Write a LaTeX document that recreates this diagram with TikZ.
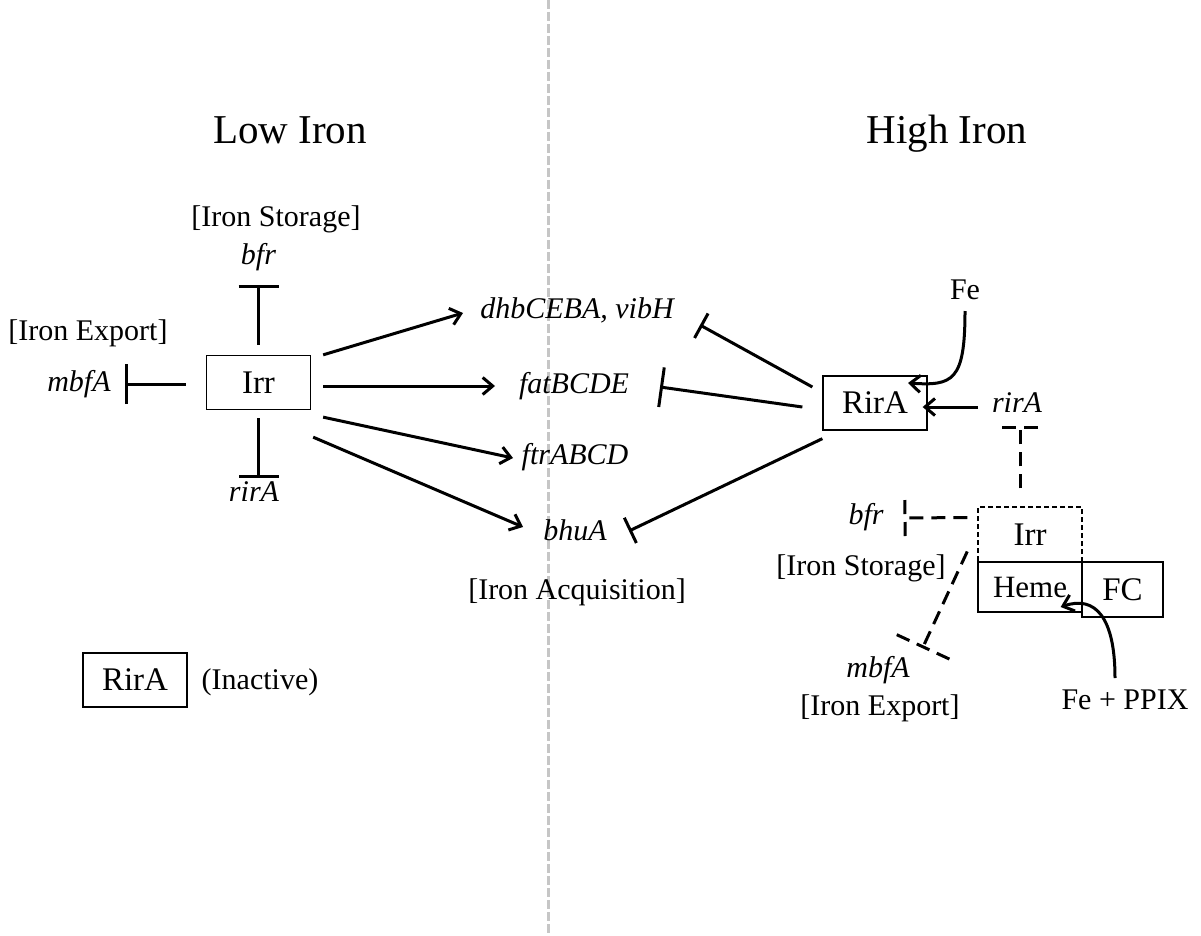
\documentclass[tikz,border=0pt]{standalone}
\usepackage{fontspec}
\setmainfont{Liberation Serif}
\usetikzlibrary{arrows.meta,decorations.markings}

\begin{document}
\begin{tikzpicture}[x=1pt, y=-1pt,
    lbl/.style={inner sep=0pt, font=\fontsize{30}{34}\selectfont},
    gene/.style={inner sep=0pt, font=\fontsize{30}{34}\selectfont\itshape},
    heading/.style={inner sep=0pt, font=\fontsize{41}{46}\selectfont},
    prot/.style={draw, line width=1.3pt, inner sep=0pt, minimum width=104pt,
                 minimum height=54pt, font=\fontsize{33}{38}\selectfont},
    act/.style={line width=3pt, -{Straight Barb[length=10pt, width=17pt]}},
    inh/.style={line width=3pt, -{Bar[width=#1]}},
    inh/.default=40pt,
    dinh/.style={line width=3pt, dash pattern=on 14pt off 8pt,
                 postaction={decorate}, decoration={markings, mark=at position 1 with
                 {\draw[line width=3pt, dash pattern=on 14pt off 8pt] (0,-#1) -- (0,#1);}}},
    dinh/.default=18pt,
  ]
    \fill[white] (0,0) rectangle (1201,936);
    \useasboundingbox (0,0) rectangle (1201,936);

    % divider between the two conditions
    \coordinate (divtop) at (548,0);
    \coordinate (divbot) at (548,936);
    \draw[gray!45, line width=3pt, dash pattern=on 9pt off 3pt] (divtop) -- (divbot);

    \node[heading] (lowt) at (290,130) {Low Iron};
    \node[heading] (hight) at (947,134) {High Iron};

    % low iron
    \node[prot] (irrl) at (258.5,382.5) {Irr};
    \node[lbl] (storel) at (276,219) {[Iron Storage]};
    \node[gene] (bfrl) at (258.5,257) {bfr};
    \node[lbl] (exportl) at (88,333) {[Iron Export]};
    \node[gene] (mbfl) at (79,384) {mbfA};
    \node[gene] (rirl) at (254,492) {rirA};
    \node[gene] (dhb) at (577,310) {dhbCEBA, vibH};
    \node[gene] (fat) at (574,386) {fatBCDE};
    \node[gene] (ftr) at (575,457) {ftrABCD};
    \node[gene] (bhu) at (575,530) {bhuA};
    \node[lbl] (acq) at (577,592) {[Iron Acquisition]};
    \node[prot] (rirl2) at (135,680) {RirA};
    \node[lbl] (inact) at (260,682) {(Inactive)};

    \draw[inh] ([shift={(0,-10)}]irrl.north) -- ([shift={(0,28)}]bfrl.center);
    \draw[inh] ([shift={(-20,1.5)}]irrl.west) -- ([shift={(46,0)}]mbfl.center);
    \draw[inh] ([shift={(0,8)}]irrl.south) -- ([shift={(4.5,-14)}]rirl.center);
    \draw[act] ([shift={(12,0)}]irrl.north east) -- ([shift={(-114,3)}]dhb.center);
    \draw[act] ([shift={(12,3.5)}]irrl.east) -- ([shift={(-79,0)}]fat.center);
    \draw[act] ([shift={(12,7)}]irrl.south east) -- ([shift={(-62,1)}]ftr.center);
    \draw[act] ([shift={(2,27)}]irrl.south east) -- ([shift={(-52,-3)}]bhu.center);

    % high iron
    \node[prot] (rirh) at (875,403) {RirA};
    \node[lbl] (fe) at (965,290) {Fe};
    \node[gene] (rirah) at (1017,403) {rirA};
    \node[prot, line width=1.5pt, dash pattern=on 5pt off 3pt, minimum height=55pt]
        (irrh) at (1030,534.5) {Irr};
    \node[prot, minimum height=50pt, font=\fontsize{31}{36}\selectfont]
        (heme) at (1030,587) {Heme};
    \node[prot, minimum width=81pt, minimum height=55pt] (fc) at (1122.5,589.5) {FC};
    \node[gene] (bfrh) at (866,517) {bfr};
    \node[lbl] (storeh) at (861,568) {[Iron Storage]};
    \node[gene] (mbfh) at (878,670) {mbfA};
    \node[lbl] (exporth) at (880,708) {[Iron Export]};
    \node[lbl] (feppix) at (1125,700) {Fe + PPIX};

    \draw[inh=28pt] ([shift={(-10,-16)}]rirh.west) -- ([shift={(123,15)}]dhb.center);
    \draw[inh] ([shift={(-20,4)}]rirh.west) -- ([shift={(86,1)}]fat.center);
    \draw[inh=28pt] ([shift={(0,8)}]rirh.south west) -- ([shift={(54,1)}]bhu.center);
    \draw[act] ([shift={(0,21)}]fe.center) .. controls +(0,70) and +(45,3)
        .. ([shift={(33,-20)}]rirh.center);
    \draw[act] ([shift={(-39,4)}]rirah.center) -- ([shift={(-5,4)}]rirh.east);
    \draw[dinh] ([shift={(-10,-18)}]irrh.north) -- ([shift={(3,24)}]rirah.center);
    \draw[dinh] ([shift={(-10,-17)}]irrh.west) -- ([shift={(39,1)}]bfrh.center);
    \draw[dinh=29pt] ([shift={(-10,17)}]irrh.west) -- ([shift={(45,-23)}]mbfh.center);
    \draw[act] ([shift={(-10,-22)}]feppix.center) .. controls +(0,-60) and +(35,-12)
        .. ([shift={(-22,20)}]heme.east);
\end{tikzpicture}
\end{document}
